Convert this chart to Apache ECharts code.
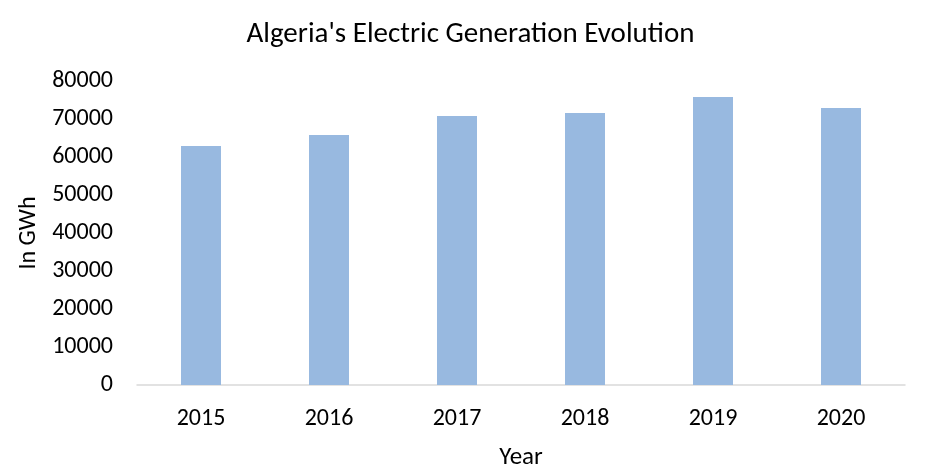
<!DOCTYPE html>
<html>
<head>
<meta charset="utf-8">
<style>
    html, body { margin: 0; padding: 0; background: #fff; }
    #chart { width: 941px; height: 475px; }
</style>
<script src="https://cdn.jsdelivr.net/npm/echarts@6/dist/echarts.min.js"></script>
</head>
<body>
<div id="chart"></div>
<script>
    // data
    var years = ['2015', '2016', '2017', '2018', '2019', '2020'];
    var generationGWh = [62900, 65800, 70800, 71600, 75800, 72900];

    var font = "Carlito, 'Open Sans', 'Noto Sans', sans-serif";
    var chart = echarts.init(document.getElementById('chart'));
    chart.setOption({
        animation: false,
        title: {
            text: "Algeria's Electric Generation Evolution",
            left: 'center',
            top: 15,
            textStyle: { fontFamily: font, fontSize: 29, fontWeight: 'normal', color: '#000' }
        },
        grid: { left: 137, right: 36, top: 81, bottom: 90, outerBoundsMode: 'none' },
        xAxis: {
            type: 'category',
            data: years,
            name: 'Year',
            nameLocation: 'middle',
            nameGap: 60,
            nameTextStyle: { fontFamily: font, fontSize: 25, color: '#000' },
            axisLine: { lineStyle: { color: '#d9d9d9', width: 1.5 } },
            axisTick: { show: false },
            axisLabel: { fontFamily: font, fontSize: 24, color: '#000', margin: 22 }
        },
        yAxis: {
            type: 'value',
            min: 0,
            max: 80000,
            interval: 10000,
            name: 'In GWh',
            nameLocation: 'middle',
            nameGap: 92,
            nameTextStyle: { fontFamily: font, fontSize: 24, color: '#000' },
            splitLine: { show: false },
            axisLine: { show: false },
            axisTick: { show: false },
            axisLabel: {
                fontFamily: font, fontSize: 24, color: '#000', margin: 24,
                formatter: function (v) { return String(v); }
            }
        },
        series: [{
            type: 'bar',
            data: generationGWh,
            barWidth: 40,
            itemStyle: { color: '#98b9e0' }
        }]
    });
</script>
</body>
</html>
